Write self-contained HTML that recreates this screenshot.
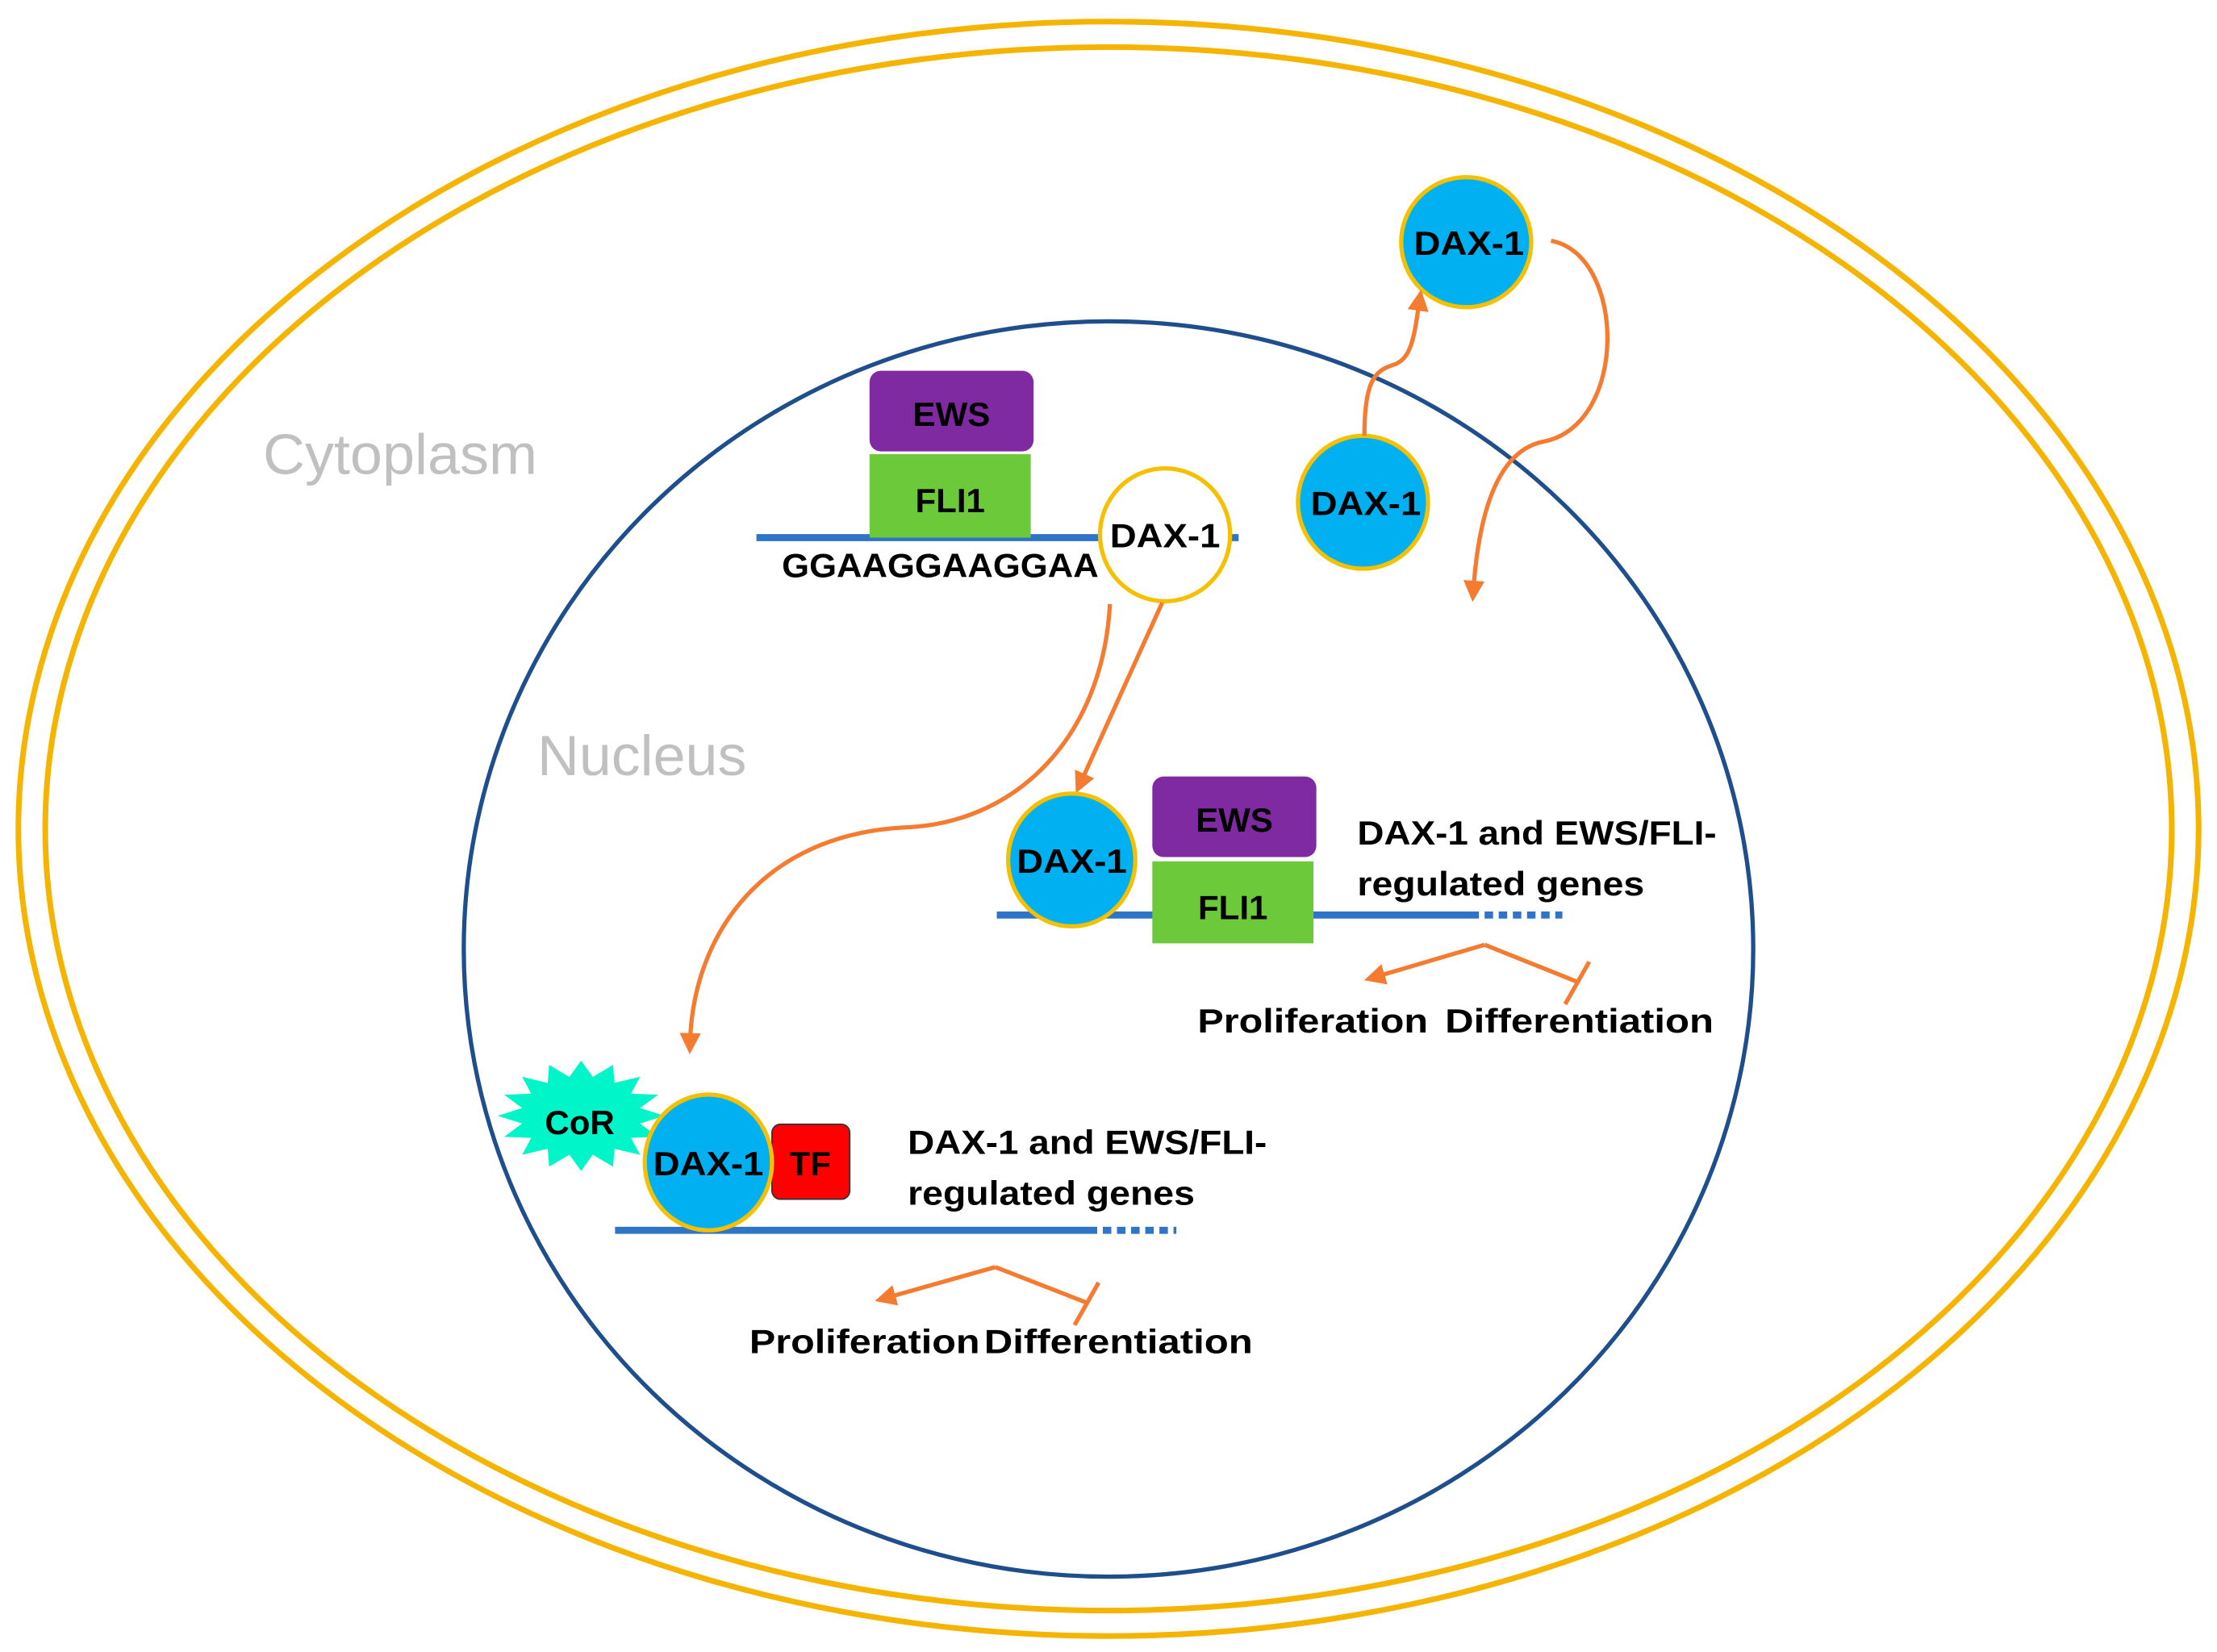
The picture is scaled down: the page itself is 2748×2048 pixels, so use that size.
<!DOCTYPE html>
<html><head><meta charset="utf-8"><style>
html,body{margin:0;padding:0;background:#fff}
svg{display:block}
text{font-family:"Liberation Sans",sans-serif;font-weight:bold;fill:#000}
</style></head><body>
<svg width="2748" height="2048" viewBox="0 0 1568 1168" xmlns="http://www.w3.org/2000/svg">
<defs>
<marker id="ah" viewBox="0 0 10 10" refX="5" refY="5" markerWidth="5" markerHeight="5" orient="auto-start-reverse"><path d="M0,0 L10,5 L0,10 z" fill="#f47b30"/></marker>
</defs>
<ellipse cx="784" cy="586" rx="771" ry="571" fill="none" stroke="#f5b400" stroke-width="4"/>
<ellipse cx="784" cy="586" rx="752" ry="553" fill="none" stroke="#f5b400" stroke-width="4"/>
<ellipse cx="784" cy="671" rx="456" ry="444" fill="none" stroke="#1f4e8c" stroke-width="3"/>
<text x="186" y="335" font-size="40" textLength="194" lengthAdjust="spacingAndGlyphs" style="font-weight:normal;fill:#c0c0c0">Cytoplasm</text>
<text x="380" y="548" font-size="40" textLength="148" lengthAdjust="spacingAndGlyphs" style="font-weight:normal;fill:#c0c0c0">Nucleus</text>

<!-- top complex -->
<line x1="535" y1="380" x2="876" y2="380" stroke="#2e75c8" stroke-width="5"/>
<rect x="615" y="262" width="116" height="57" rx="8" fill="#7f2aa0"/>
<text x="673" y="301" font-size="24" text-anchor="middle">EWS</text>
<rect x="615" y="321" width="114" height="59" fill="#6cc93a"/>
<text x="672" y="362" font-size="24" text-anchor="middle">FLI1</text>
<text x="553" y="408" font-size="24" textLength="224" lengthAdjust="spacingAndGlyphs">GGAAGGAAGGAA</text>
<ellipse cx="824" cy="378" rx="46" ry="47" fill="#fff" stroke="#f5c000" stroke-width="3"/>
<text x="824" y="387" font-size="24" text-anchor="middle" textLength="78" lengthAdjust="spacingAndGlyphs">DAX-1</text>

<!-- free DAX-1 -->
<ellipse cx="1037" cy="171" rx="46" ry="46" fill="#00b0f0" stroke="#f5c000" stroke-width="3"/>
<text x="1039" y="180" font-size="24" text-anchor="middle" textLength="78" lengthAdjust="spacingAndGlyphs">DAX-1</text>
<ellipse cx="964" cy="355" rx="46" ry="47" fill="#00b0f0" stroke="#f5c000" stroke-width="3"/>
<text x="966" y="364" font-size="24" text-anchor="middle" textLength="78" lengthAdjust="spacingAndGlyphs">DAX-1</text>

<!-- arrows -->
<g fill="none" stroke="#f47b30" stroke-width="3">
<path d="M965,308 C965,270 972,262 985,258 C998,254 1000,240 1004,212" marker-end="url(#ah)"/>
<path d="M1097,170 C1150,180 1152,300 1092,312 C1060,318 1046,360 1042,418" marker-end="url(#ah)"/>
<path d="M822,426 L764,554" marker-end="url(#ah)"/>
<path d="M785,427 C780,520 720,582 640,585 C540,590 490,660 488,738" marker-end="url(#ah)"/>
</g>

<!-- middle complex -->
<line x1="705" y1="647" x2="1046" y2="647" stroke="#2e75c8" stroke-width="5"/>
<line x1="1050" y1="647" x2="1105" y2="647" stroke="#2e75c8" stroke-width="5" stroke-dasharray="6,4"/>
<rect x="815" y="549" width="116" height="57" rx="8" fill="#7f2aa0"/>
<text x="873" y="588" font-size="24" text-anchor="middle">EWS</text>
<rect x="815" y="609" width="114" height="58" fill="#6cc93a"/>
<text x="872" y="650" font-size="24" text-anchor="middle">FLI1</text>
<ellipse cx="758" cy="608" rx="45" ry="47" fill="#00b0f0" stroke="#f5c000" stroke-width="3"/>
<text x="758" y="617" font-size="24" text-anchor="middle" textLength="78" lengthAdjust="spacingAndGlyphs">DAX-1</text>
<text x="960" y="597" font-size="24" textLength="254" lengthAdjust="spacingAndGlyphs">DAX-1 and EWS/FLI-</text>
<text x="960" y="633" font-size="24" textLength="203" lengthAdjust="spacingAndGlyphs">regulated genes</text>
<g fill="none" stroke="#f47b30" stroke-width="3">
<path d="M1050,668 L972,691" marker-end="url(#ah)"/>
<path d="M1050,668 L1115,694"/>
<path d="M1124,680 L1107,710"/>
</g>
<text x="847" y="730" font-size="24" textLength="163" lengthAdjust="spacingAndGlyphs">Proliferation</text>
<text x="1022" y="730" font-size="24" textLength="190" lengthAdjust="spacingAndGlyphs">Differentiation</text>

<!-- bottom complex -->
<line x1="435" y1="870" x2="776" y2="870" stroke="#2e75c8" stroke-width="5"/>
<line x1="780" y1="870" x2="832" y2="870" stroke="#2e75c8" stroke-width="5" stroke-dasharray="6,4"/>
<polygon id="star" fill="#00f5c8"/>
<text x="410" y="802" font-size="24" text-anchor="middle">CoR</text>
<rect x="546" y="795" width="55" height="53" rx="6" fill="#ff0000" stroke="#333" stroke-width="1"/>
<text x="573" y="831" font-size="24" text-anchor="middle">TF</text>
<ellipse cx="501" cy="822" rx="45" ry="48" fill="#00b0f0" stroke="#f5c000" stroke-width="3"/>
<text x="501" y="831" font-size="24" text-anchor="middle" textLength="78" lengthAdjust="spacingAndGlyphs">DAX-1</text>
<text x="642" y="816" font-size="24" textLength="254" lengthAdjust="spacingAndGlyphs">DAX-1 and EWS/FLI-</text>
<text x="642" y="852" font-size="24" textLength="203" lengthAdjust="spacingAndGlyphs">regulated genes</text>
<g fill="none" stroke="#f47b30" stroke-width="3">
<path d="M704,896 L626,918" marker-end="url(#ah)"/>
<path d="M704,896 L768,921"/>
<path d="M777,907 L760,937"/>
</g>
<text x="530" y="957" font-size="24" textLength="163" lengthAdjust="spacingAndGlyphs">Proliferation</text>
<text x="696" y="957" font-size="24" textLength="190" lengthAdjust="spacingAndGlyphs">Differentiation</text>
</svg>
<script>
var p=[],n=16,cx=411,cy=789;
for(var i=0;i<2*n;i++){var a=Math.PI*i/n,r=(i%2?0.72:1);p.push((cx+59*r*Math.cos(a)).toFixed(1)+","+(cy+39*r*Math.sin(a)).toFixed(1));}
document.getElementById("star").setAttribute("points",p.join(" "));
</script>
</body></html>
